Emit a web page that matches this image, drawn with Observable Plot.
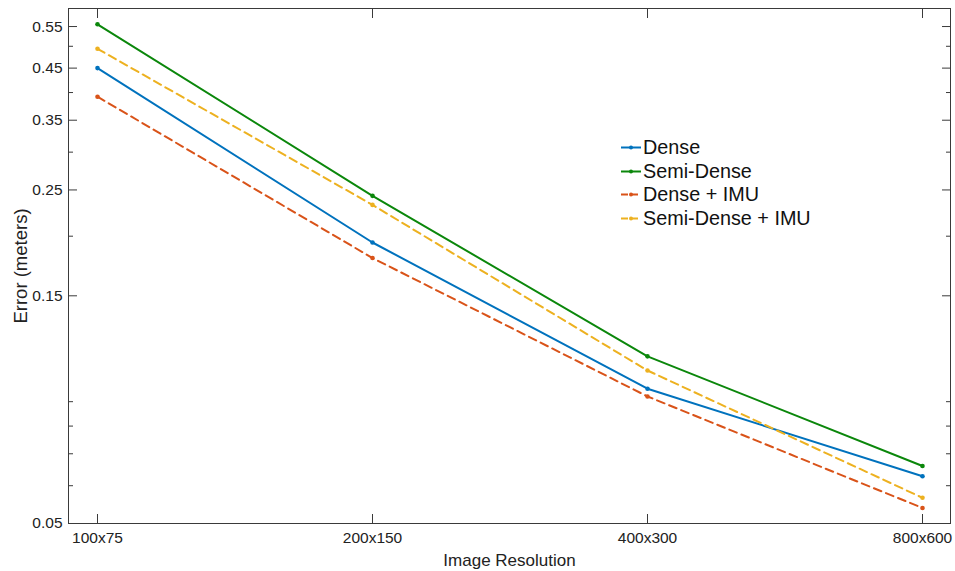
<!DOCTYPE html>
<html>
<head>
<meta charset="utf-8">
<script src="https://cdn.jsdelivr.net/npm/d3@7"></script>
<script src="https://cdn.jsdelivr.net/npm/@observablehq/plot@0.6"></script>
<style>
  body { margin: 0; background: #fff; }
  #wrap { position: relative; width: 955px; height: 571px; font-family: "Liberation Sans", Arial, sans-serif; }
  #legend { position: absolute; left: 620px; top: 136px; font-size: 19.8px; color: #111; }
  #legend .row { display: flex; align-items: center; height: 23.5px; white-space: nowrap; }
  #legend svg { display: block; margin-right: 1px; }
</style>
</head>
<body>
<div id="wrap"></div>
<script>
// Image resolutions on the x axis
const resolutions = ["100x75", "200x150", "400x300", "800x600"];

// Error (meters) per resolution for each method
const dense        = [0.450, 0.194, 0.0958, 0.0628];
const semiDense    = [0.556, 0.243, 0.112, 0.0660];
const denseIMU     = [0.392, 0.180, 0.0923, 0.0539];
const semiDenseIMU = [0.494, 0.2326, 0.1046, 0.0566];

const seriesNames  = ["Dense", "Semi-Dense", "Dense + IMU", "Semi-Dense + IMU"];
const seriesValues = [dense, semiDense, denseIMU, semiDenseIMU];
const seriesColors = ["#0072bd", "#0b870b", "#d95319", "#edb120"];
const seriesDash   = [null, null, "8,5", "8,5"];

// Y axis tick values (log scale)
const yMajorTicks = [0.05, 0.15, 0.25, 0.35, 0.45, 0.55];
const yMinorTicks = [0.06, 0.07, 0.08, 0.09, 0.2, 0.3, 0.4, 0.5];

const series = seriesNames.map((name, i) => ({
  name,
  color: seriesColors[i],
  dash: seriesDash[i],
  rows: seriesValues[i].map((v, j) => ({series: name, res: resolutions[j], err: v}))
}));

const axisColor = "#3a3a3a";

const marks = [
  Plot.frame({stroke: axisColor, strokeWidth: 1}),
  // tick labels
  Plot.axisY(yMajorTicks, {anchor: "left", tickSize: 0, tickPadding: 6, tickFormat: d3.format(".2f"), label: null, fontSize: 15.5}),
  Plot.axisX(resolutions, {anchor: "bottom", tickSize: 0, tickPadding: 8, label: null, fontSize: 15.5}),
  // inward ticks on all four sides
  Plot.axisY(yMajorTicks, {anchor: "left", tickSize: -9, fill: "none", label: null, stroke: axisColor}),
  Plot.axisY(yMinorTicks, {anchor: "left", tickSize: -5, fill: "none", label: null, stroke: axisColor}),
  Plot.axisY(yMajorTicks, {anchor: "right", tickSize: -9, fill: "none", label: null, stroke: axisColor}),
  Plot.axisY(yMinorTicks, {anchor: "right", tickSize: -5, fill: "none", label: null, stroke: axisColor}),
  Plot.axisX(resolutions, {anchor: "bottom", tickSize: -9, fill: "none", label: null, stroke: axisColor}),
  Plot.axisX(resolutions, {anchor: "top", tickSize: -9, fill: "none", label: null, stroke: axisColor}),
  // axis titles
  Plot.text(["Image Resolution"], {text: d => d, frameAnchor: "bottom", dy: 37, textAnchor: "middle", lineAnchor: "middle", fontSize: 17, fill: "#222"}),
  Plot.text(["Error (meters)"], {text: d => d, frameAnchor: "left", dx: -47, rotate: -90, textAnchor: "middle", lineAnchor: "middle", fontSize: 18.5, fill: "#222"})
];

for (const s of series) {
  marks.push(Plot.line(s.rows, {x: "res", y: "err", stroke: s.color, strokeWidth: 2, strokeDasharray: s.dash}));
  marks.push(Plot.dot(s.rows, {x: "res", y: "err", fill: s.color, r: 2.3}));
}

const chart = Plot.plot({
  width: 955,
  height: 571,
  marginLeft: 68,
  marginRight: 5,
  marginTop: 8,
  marginBottom: 48,
  style: {fontFamily: "Liberation Sans, Arial, sans-serif", fontSize: "15.5px", color: "#222", background: "#fff"},
  x: {type: "point", domain: resolutions, padding: 0.1},
  y: {type: "log", domain: [0.05, 0.6]},
  marks
});

const wrap = document.getElementById("wrap");
wrap.appendChild(chart);

// Legend overlay
const legend = document.createElement("div");
legend.id = "legend";
for (const s of series) {
  const row = document.createElement("div");
  row.className = "row";
  const dashAttr = s.dash ? `stroke-dasharray="7,3"` : "";
  row.innerHTML =
    `<svg width="22" height="23"><line x1="1" y1="11.5" x2="21" y2="11.5" stroke="${s.color}" stroke-width="2" ${dashAttr}/>` +
    `<circle cx="11" cy="11.5" r="2" fill="${s.color}"/></svg><span>${s.name}</span>`;
  legend.appendChild(row);
}
wrap.appendChild(legend);
</script>
</body>
</html>
